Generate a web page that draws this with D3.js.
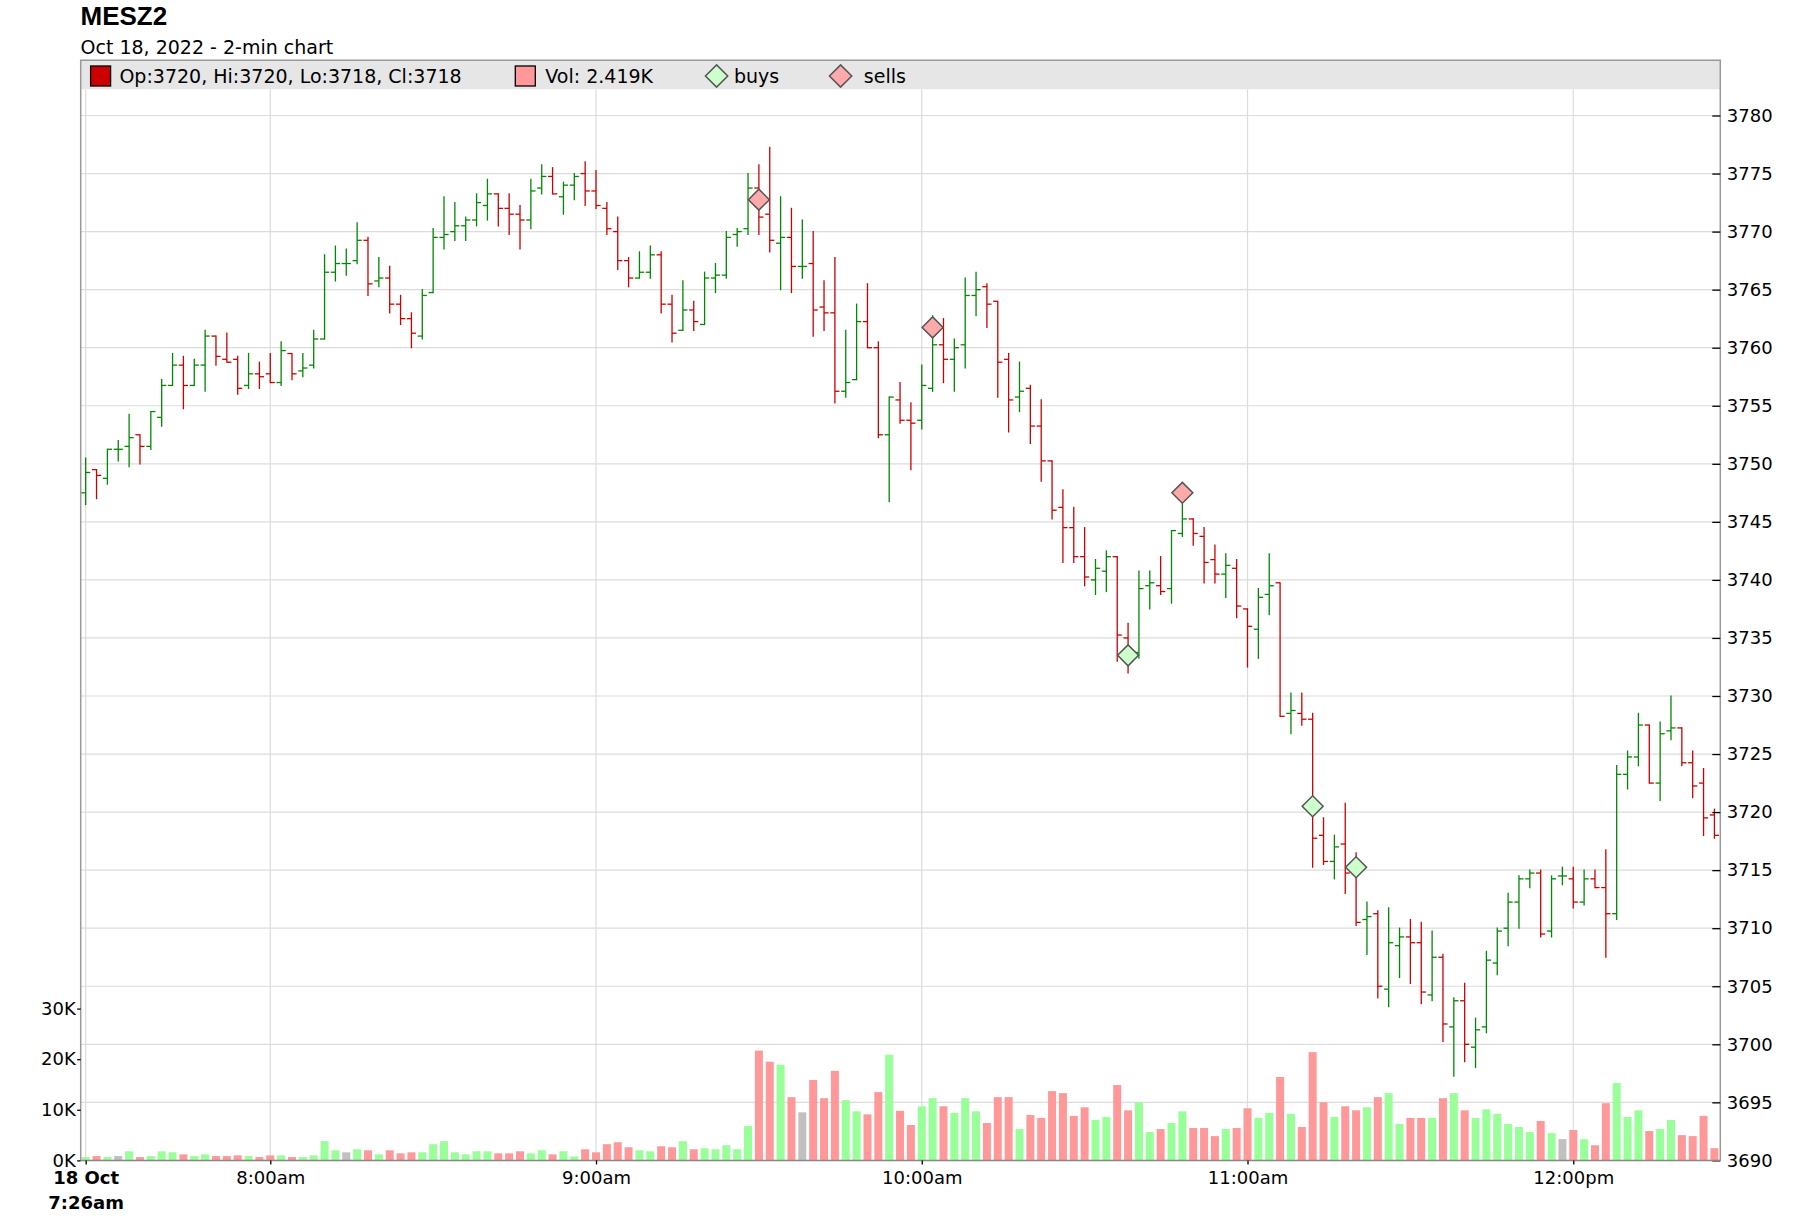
<!DOCTYPE html>
<html>
<head>
<meta charset="utf-8">
<script src="https://cdn.jsdelivr.net/npm/d3@7"></script>
<style>
  body { margin: 0; background: #fff; }
  text { font-family: "DejaVu Sans", sans-serif; fill: #000; }
</style>
</head>
<body>
<div id="chart"></div>
<script>
// MESZ2, 18 Oct 2022, 2-min bars from 7:26am to 12:26pm
var opens = [3747.5,3749.5,3748.75,3751.25,3751.5,3752.5,3751.5,3754,3756.75,3758.5,
  3756.75,3758.5,3761,3759,3759,3756.75,3757.75,3757.75,3757,3759.5,
  3758,3758.5,3760.75,3766.5,3767.25,3767.5,3769.25,3765.75,3766,3763.75,
  3762.5,3761,3764.75,3769.5,3770,3770.5,3771,3772.25,3773.25,3772,
  3771.5,3771,3773.75,3774.75,3773,3774,3775,3773.5,3772,3770,
  3767.5,3766,3766.5,3768,3763.75,3761.5,3763.25,3762,3766,3766.25,
  3769.75,3770.25,3773.75,3771.5,3769,3769.5,3767,3767.25,3763.5,3763,
  3756.25,3757.25,3762.25,3760,3752.5,3755.5,3753.75,3753.75,3756.5,3760.25,
  3759,3760.25,3764.5,3765.25,3764,3759,3755.75,3756.5,3753.25,3750.25,
  3746.25,3744.5,3742,3740,3740.75,3742,3735,3733.75,3739.5,3739.5,
  3739.25,3744,3745.25,3743.75,3741.75,3740.5,3741,3737.5,3735.75,3738.75,
  3739.75,3728.5,3728.5,3728,3718,3715.75,3717.25,3715,3710.75,3711.25,
  3704.75,3708.5,3709.25,3708.75,3704.25,3707.5,3701.5,3703.75,3699.75,3701.5,
  3707,3710,3712.25,3714.25,3714.75,3709.75,3714.5,3714.25,3712.25,3714.25,
  3713.5,3711.25,3723.25,3724.75,3727.5,3722.5,3727,3727.25,3724.25,3722.5,
  3719.75];
var highs = [3750.5,3749.5,3751.25,3752,3754.25,3752.5,3754.5,3757.25,3759.5,3759.25,
  3759,3761.5,3761,3761.25,3759.25,3759.5,3758.75,3759.5,3760.5,3759.5,
  3759.5,3761.5,3768,3768.75,3768.5,3770.75,3769.5,3767.75,3767,3764.5,
  3763,3765,3770.25,3773,3772.5,3771.25,3773.25,3774.5,3773.25,3773.25,
  3772.25,3774.5,3775.75,3775.5,3774.25,3775,3776,3775.25,3772.5,3771.25,
  3767.75,3768.25,3768.75,3768.25,3764.5,3765.75,3764,3766.5,3767.25,3770,
  3770.25,3775,3775.75,3777.25,3773,3772,3771,3770,3765.75,3767.75,
  3761.5,3763.75,3765.5,3760.5,3755.75,3757,3755.25,3758.5,3762.75,3762.5,
  3760.75,3766,3766.5,3765.5,3764,3759.5,3758.75,3756.75,3755.5,3750.25,
  3747.75,3746.25,3744.5,3741.75,3742.5,3742,3736.25,3740.75,3740.75,3742,
  3744.25,3746.75,3745.25,3744.5,3743,3742.25,3741.75,3737.5,3739.25,3742.25,
  3739.75,3730.25,3730.25,3728.5,3719.5,3718,3720.75,3716.5,3712.25,3711.5,
  3711.75,3710,3710.75,3710.5,3709.75,3707.75,3704,3705.25,3702.25,3708,
  3710,3713,3714.5,3715,3715,3714.5,3715.25,3715.25,3715,3715,
  3716.75,3724,3725.25,3728.5,3727.5,3727.75,3730,3727.25,3725.25,3723.75,
  3720.25];
var lows = [3746.5,3747,3748.25,3750.25,3749.75,3750,3751.25,3753.25,3756.75,3754.75,
  3756.75,3756.25,3758.5,3758.75,3756,3756.5,3756.5,3757,3756.75,3757.25,
  3757.5,3758.25,3760.75,3765.75,3766.25,3767.25,3764.5,3765.25,3763,3762,
  3760,3760.75,3764.75,3768.5,3769.25,3769.25,3770.5,3771,3770.5,3769.75,
  3768.5,3770.25,3773.25,3773.25,3771.5,3772.75,3772.25,3772,3769.75,3766.75,
  3765.25,3766,3766,3763,3760.5,3761.5,3761.5,3762,3764.75,3766,
  3768.75,3769.75,3769.75,3768.25,3765,3764.75,3766,3761,3761.5,3755.25,
  3755.75,3757.25,3760,3752.25,3746.75,3753.5,3749.5,3753,3756.25,3757,
  3756.25,3758.25,3762.75,3761.75,3755.75,3752.75,3754.5,3751.75,3748.5,3745.25,
  3741.5,3741.5,3739.5,3738.75,3739,3733,3732,3733.25,3737.5,3738.75,
  3738,3743.75,3743,3739.75,3739.75,3738.5,3736.75,3732.5,3733.25,3737,
  3728.25,3726.75,3727.5,3715.25,3715.5,3714.25,3713,3710.25,3707.75,3704,
  3703.25,3705.75,3705.25,3703.5,3703.75,3700.25,3697.25,3698.5,3698,3701,
  3706,3708.5,3710,3713.5,3709.25,3709.25,3713.75,3711.75,3712,3713.5,
  3707.5,3710.75,3722,3724,3722.5,3721,3726.25,3724,3721.25,3718,
  3717.75];
var closes = [3749.25,3749,3751.25,3751.25,3752.25,3751.5,3754.5,3756.75,3758.5,3756.75,
  3758.5,3761,3759.25,3758.75,3756.5,3757.75,3757.5,3757,3759.75,3757.75,
  3758.25,3760.75,3766.5,3767.25,3767.25,3769.25,3765.5,3766,3763.75,3762.5,
  3761.25,3764.5,3769.5,3769.75,3770.5,3771,3772.5,3773.25,3772,3771.5,
  3771,3773.5,3774.75,3773.25,3774,3774.75,3773.5,3772.25,3770.25,3767.5,
  3766,3766.5,3768,3763.75,3761.25,3763.25,3762.25,3766,3766.25,3769.5,
  3770,3773.75,3771.25,3769.25,3769.5,3767,3767,3763.25,3763,3756.25,
  3757,3762.25,3760,3752.5,3755.75,3753.75,3753.5,3756.75,3760.25,3759,
  3760,3764.5,3765,3763.75,3758.75,3755.5,3756.25,3753.25,3750.25,3746,
  3744.5,3742,3740.25,3741,3742,3735.25,3734,3739.25,3739.75,3739,
  3744.25,3745.25,3744,3741.5,3740.5,3741.25,3737.75,3736,3738.5,3739.5,
  3728.25,3728.75,3728,3717.75,3715.75,3717,3714.75,3710.5,3711,3705,
  3708.75,3709.25,3708.75,3704.5,3707.5,3701.75,3703.75,3700,3701.25,3707.25,
  3709.75,3712.25,3714.25,3714.75,3709.5,3714.25,3714.5,3712.25,3714.25,3713.5,
  3711.25,3723.25,3724.75,3727.5,3722.5,3726.75,3727.25,3724.25,3722.25,3719.5,
  3718];
var volumes = [660,860,660,860,1800,660,860,1800,1600,1200,
  860,1200,860,860,1000,860,660,1000,1000,660,
  660,1000,3800,2000,1600,2200,2000,1200,2000,1400,
  1600,1600,3200,3800,1600,1200,1800,1800,1400,1400,
  1800,1400,2000,1200,1800,800,2200,1600,3200,3600,
  2600,2000,1800,2800,2600,3800,2200,2400,2200,3000,
  2200,6800,21700,19500,18900,12500,9500,15900,12300,17700,
  11900,9700,9100,13500,20900,9800,7000,10700,12300,10700,
  9400,12300,9700,7400,12500,12500,6200,9000,8400,13700,
  13300,8800,10500,8000,8600,14900,9900,11500,5600,6200,
  7400,9700,6400,6400,4800,6200,6400,10300,8400,9400,
  16500,9200,6600,21400,11500,8600,10700,9900,10500,12500,
  13300,7200,8400,8400,8400,12300,13300,9900,8400,10100,
  9200,7200,6600,5600,7800,5400,4200,6000,4200,3000,
  11300,15300,8600,9900,5800,6200,8000,5000,4800,8800,
  2419];

// trade markers: bar number and price
var buyBars = [96, 113, 117];
var buyPrices = [3733.5, 3720.5, 3715.25];
var sellBars = [62, 78, 101];
var sellPrices = [3772.75, 3761.75, 3747.5];

var priceTicks = d3.range(3690, 3781, 5);
var volTicks = [0, 10000, 20000, 30000];

var width = 1800, height = 1232;
var plotLeft = 80.7, plotRight = 1720.3, plotTop = 60.3, legendBottom = 89.3, plotBottom = 1160.4;

var svg = d3.select("#chart")
    .append("svg")
    .attr("width", width)
    .attr("height", height);

svg.append("rect").attr("width", width).attr("height", height).attr("fill", "#fff");

var day = function (h, m, s) { return new Date(2022, 9, 18, h, m, s || 0); };
var barTimes = d3.timeMinute.every(2).range(day(7, 26), day(12, 28));

var x = d3.scaleTime()
    .domain([day(7, 25, 5), day(12, 27, 5)])
    .range([plotLeft, plotRight]);
var y = d3.scaleLinear()
    .domain([3690, 3780])
    .range([plotBottom, 115.5]);
var yVol = d3.scaleLinear()
    .domain([0, 30000])
    .range([plotBottom, 1008.6]);

var bars = barTimes.map(function (t, i) {
    return { t: t, o: opens[i], h: highs[i], l: lows[i], c: closes[i], v: volumes[i] };
});

// title
svg.append("text")
    .attr("x", 80.5).attr("y", 25)
    .style("font-family", "'Liberation Sans', Arial, sans-serif")
    .style("font-weight", "bold")
    .style("font-size", "26px")
    .text("MESZ2");
svg.append("text")
    .attr("x", 80.5).attr("y", 54)
    .style("font-size", "19px")
    .text("Oct 18, 2022 - 2-min chart");

// legend band
svg.append("rect")
    .attr("x", plotLeft).attr("y", plotTop)
    .attr("width", plotRight - plotLeft).attr("height", legendBottom - plotTop)
    .attr("fill", "#e6e6e6");

// grid
var hourTicks = x.ticks(d3.timeHour.every(1));
var xTicks = [barTimes[0]].concat(hourTicks);

svg.append("g").selectAll("line")
    .data(priceTicks)
    .join("line")
    .attr("x1", plotLeft).attr("x2", plotRight)
    .attr("y1", function (d) { return y(d); })
    .attr("y2", function (d) { return y(d); })
    .attr("stroke", "#dcdcdc")
    .attr("stroke-width", 1.2);

svg.append("g").selectAll("line")
    .data(xTicks)
    .join("line")
    .attr("x1", function (d) { return x(d); })
    .attr("x2", function (d) { return x(d); })
    .attr("y1", legendBottom).attr("y2", plotBottom)
    .attr("stroke", "#dcdcdc")
    .attr("stroke-width", 1.2);

// volume bars
svg.append("g").selectAll("rect")
    .data(bars)
    .join("rect")
    .attr("x", function (d) { return x(d.t) - 4; })
    .attr("width", 8)
    .attr("y", function (d) { return yVol(d.v); })
    .attr("height", function (d) { return plotBottom - yVol(d.v); })
    .attr("fill", function (d) {
        return d.c > d.o ? "#99ff99" : (d.c < d.o ? "#ff9999" : "#c0c0c0");
    });

// OHLC bars
var barColor = function (d) { return d.c >= d.o ? "#008800" : "#cc0000"; };
var ohlc = svg.append("g").selectAll("g")
    .data(bars)
    .join("g")
    .attr("stroke", barColor)
    .attr("stroke-width", 1.3);
ohlc.append("line")
    .attr("x1", function (d) { return x(d.t); })
    .attr("x2", function (d) { return x(d.t); })
    .attr("y1", function (d) { return y(d.h) - 0.6; })
    .attr("y2", function (d) { return y(d.l) + 0.6; });
ohlc.append("line")
    .attr("x1", function (d) { return x(d.t) - 4.6; })
    .attr("x2", function (d) { return x(d.t); })
    .attr("y1", function (d) { return y(d.o); })
    .attr("y2", function (d) { return y(d.o); });
ohlc.append("line")
    .attr("x1", function (d) { return x(d.t); })
    .attr("x2", function (d) { return x(d.t) + 4.6; })
    .attr("y1", function (d) { return y(d.c); })
    .attr("y2", function (d) { return y(d.c); });

// buy / sell diamonds
var diamond = d3.symbol().type(d3.symbolSquare).size(220);
function drawMarkers(idx, prices, fill) {
    svg.append("g").selectAll("path")
        .data(idx)
        .join("path")
        .attr("d", diamond)
        .attr("transform", function (d, i) {
            return "translate(" + x(barTimes[d]) + "," + y(prices[i]) + ") rotate(45)";
        })
        .attr("fill", fill)
        .attr("stroke", "#555")
        .attr("stroke-width", 1.5);
}
drawMarkers(sellBars, sellPrices, "#ffaaaa");
drawMarkers(buyBars, buyPrices, "#ccffcc");

// frame
svg.append("path")
    .attr("d", "M" + plotLeft + "," + plotBottom + "V" + plotTop + "H" + plotRight + "V" + plotBottom)
    .attr("fill", "none")
    .attr("stroke", "#999")
    .attr("stroke-width", 1.5);

// right price axis (ticks point into the plot)
var rightAxis = svg.append("g")
    .attr("transform", "translate(" + plotRight + ",0)")
    .call(d3.axisRight(y).tickValues(priceTicks).tickFormat(d3.format("d"))
        .tickSizeInner(-8).tickSizeOuter(0).tickPadding(6.5));
rightAxis.select(".domain").remove();
rightAxis.selectAll("line").attr("stroke", "#000").attr("stroke-width", 1.3);
rightAxis.selectAll("text").style("font-size", "18px").attr("fill", "#000");

// left volume axis
var leftAxis = svg.append("g")
    .attr("transform", "translate(" + plotLeft + ",0)")
    .call(d3.axisLeft(yVol).tickValues(volTicks).tickSize(3.5).tickPadding(1.5)
        .tickFormat(function (d) { return d / 1000 + "K"; }));
leftAxis.select(".domain").remove();
leftAxis.selectAll("line").attr("stroke", "#000").attr("stroke-width", 1.3);
leftAxis.selectAll("text").style("font-size", "18px").attr("fill", "#000");

// time axis
var fmtHour = d3.timeFormat("%-I:%M%p");
var bottomAxis = svg.append("g")
    .attr("transform", "translate(0," + plotBottom + ")")
    .call(d3.axisBottom(x).tickValues(xTicks).tickSize(4).tickSizeOuter(0).tickPadding(7)
        .tickFormat(function (d) { return fmtHour(d).toLowerCase(); }));
bottomAxis.select(".domain").attr("stroke", "#888").attr("stroke-width", 1.5)
    .attr("d", "M" + plotLeft + ",0H" + plotRight);
bottomAxis.selectAll("line").attr("stroke", "#000").attr("stroke-width", 1.3);
bottomAxis.selectAll("text").style("font-size", "18px").attr("fill", "#000");

// first tick gets the date on two bold lines
var firstLabel = bottomAxis.selectAll(".tick text").filter(function (d, i) { return i === 0; });
firstLabel.text(null).style("font-weight", "bold");
firstLabel.append("tspan").attr("x", 0).text(d3.timeFormat("%-d %b")(barTimes[0]));
firstLabel.append("tspan").attr("x", 0).attr("dy", "1.38em").text(fmtHour(barTimes[0]).toLowerCase());

// legend contents, taken from the last bar
var last = bars[bars.length - 1];
var legend = svg.append("g").style("font-size", "19px");
legend.append("rect").attr("x", 90.6).attr("y", 66).attr("width", 20).attr("height", 20)
    .attr("fill", "#cc0000").attr("stroke", "#000").attr("stroke-width", 1.3);
legend.append("text").attr("x", 119.4).attr("y", 83)
    .text("Op:" + Math.round(last.o) + ", Hi:" + Math.round(last.h) +
        ", Lo:" + Math.round(last.l) + ", Cl:" + Math.round(last.c));
legend.append("rect").attr("x", 515.3).attr("y", 66).attr("width", 20).attr("height", 20)
    .attr("fill", "#ff9999").attr("stroke", "#000").attr("stroke-width", 1.3);
legend.append("text").attr("x", 545.3).attr("y", 83)
    .text("Vol: " + (last.v / 1000).toFixed(3) + "K");
var legendDiamond = d3.symbol().type(d3.symbolSquare).size(250);
legend.append("path").attr("d", legendDiamond)
    .attr("transform", "translate(716.6,76) rotate(45)")
    .attr("fill", "#ccffcc").attr("stroke", "#555").attr("stroke-width", 1.5);
legend.append("text").attr("x", 734).attr("y", 83).text("buys");
legend.append("path").attr("d", legendDiamond)
    .attr("transform", "translate(840.6,76) rotate(45)")
    .attr("fill", "#ffaaaa").attr("stroke", "#555").attr("stroke-width", 1.5);
legend.append("text").attr("x", 863.8).attr("y", 83).text("sells");
</script>
</body>
</html>
